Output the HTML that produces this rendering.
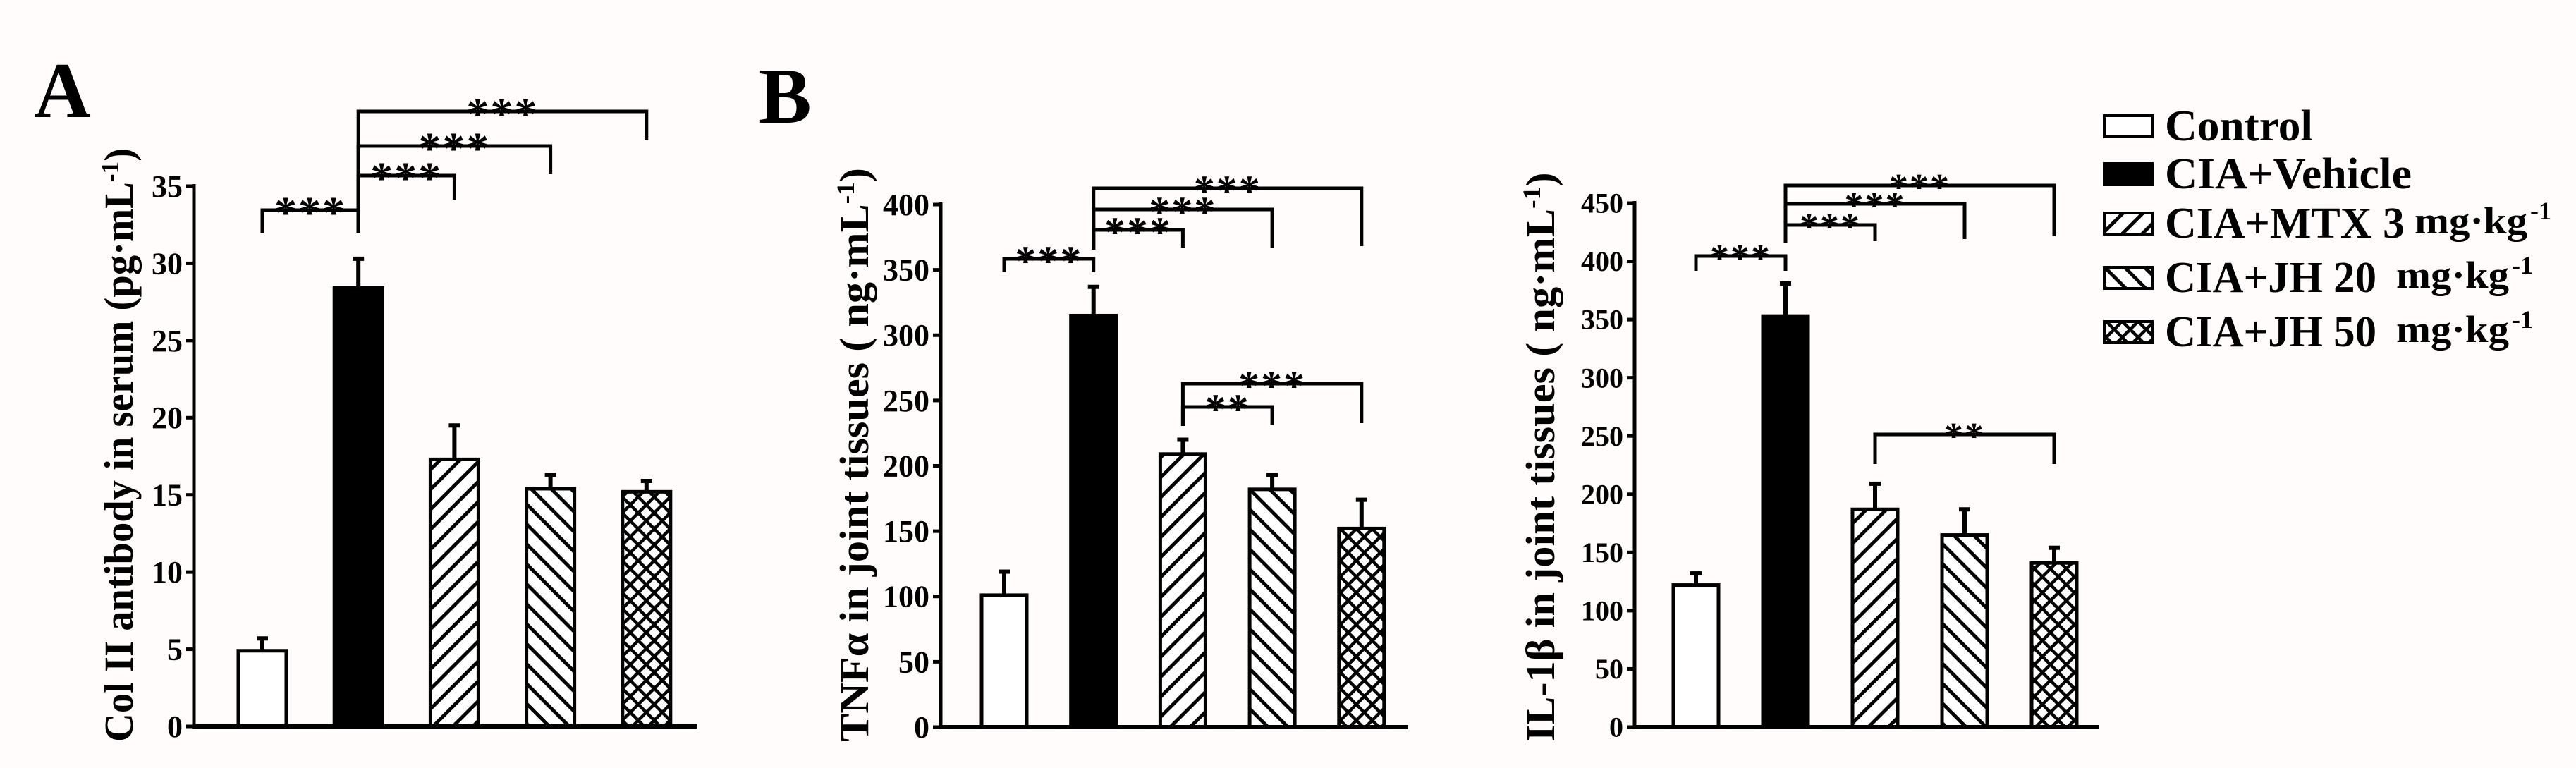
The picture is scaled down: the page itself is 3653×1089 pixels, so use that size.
<!DOCTYPE html>
<html><head><meta charset="utf-8"><style>
html,body{margin:0;padding:0;background:#fffcfb;}
svg, svg text{font-family:"Liberation Serif","Times New Roman",Times,serif;font-weight:bold;}
</style></head><body>
<svg id="fig" width="3653" height="1084" viewBox="0 0 3653 1084" xmlns="http://www.w3.org/2000/svg" font-family="Liberation Serif, Times New Roman, serif">
<defs>
<pattern id="hatchF" patternUnits="userSpaceOnUse" width="20" height="20" patternTransform="rotate(45)">
<rect width="20" height="20" fill="#fff"/><rect x="0" y="0" width="5" height="20" fill="#000"/></pattern>
<pattern id="hatchB" patternUnits="userSpaceOnUse" width="20" height="20" patternTransform="rotate(-45)">
<rect width="20" height="20" fill="#fff"/><rect x="0" y="0" width="5" height="20" fill="#000"/></pattern>
<pattern id="cross" patternUnits="userSpaceOnUse" width="16" height="16" patternTransform="rotate(45)">
<rect width="16" height="16" fill="#fff"/><rect x="0" y="0" width="4.5" height="16" fill="#000"/><rect x="0" y="0" width="16" height="4.5" fill="#000"/></pattern>
</defs>
<text x="48" y="166" font-size="112">A</text>
<text x="1076" y="174" font-size="112">B</text>
<g id="legend"></g>
</svg>
<script>
const categories = ["Control","CIA+Vehicle","CIA+MTX 3","CIA+JH 20","CIA+JH 50"];
const fills = ["#fff","#000","url(#hatchF)","url(#hatchB)","url(#cross)"];
const valuesA = [4.9, 28.4, 17.3, 15.4, 15.2];
const errorsA = [0.8, 1.9, 2.2, 0.9, 0.7];
const ticksA = [0,5,10,15,20,25,30,35];
const valuesB = [101, 315, 209, 182, 152];
const errorsB = [18, 22, 11, 11, 22];
const ticksB = [0,50,100,150,200,250,300,350,400];
const valuesC = [122, 353, 187, 165, 141];
const errorsC = [10, 28, 22, 22, 13];
const ticksC = [0,50,100,150,200,250,300,350,400,450];
const NS="http://www.w3.org/2000/svg";
const svg=document.getElementById('fig');
function el(tag,attrs,parent){const e=document.createElementNS(NS,tag);for(const k in attrs)e.setAttribute(k,attrs[k]);(parent||svg).appendChild(e);return e;}

const panels=[
 {key:'a',vals:valuesA,errs:errorsA,ticks:ticksA,max:35,x0:275,x1:988,y0:1030,yTop:264,centers0:372,step:136.2,bw:68,
  label:"Col II antibody in serum (pg·mL",lx:168,ly:631,llen:842,tickFs:44,starFs:64,
  br:[[0,1,298,330,330,"***"],[1,2,249,284,330,"***"],[1,3,207,247,330,"***"],[1,4,158,199,330,"***"]]},
 {key:'b',vals:valuesB,errs:errorsB,ticks:ticksB,max:400,x0:1334,x1:1997,y0:1031,yTop:290,centers0:1424,step:126.7,bw:64,
  label:"TNFα in joint tissues ( ng·mL",lx:1211,ly:645,llen:814,tickFs:44,starFs:60,
  br:[[0,1,367,386,386,"***"],[1,2,326,351,354,"***"],[1,3,297,352,354,"***"],[1,4,267,349,354,"***"],[2,3,577,603,604,"**"],[2,4,544,600,604,"***"]]},
 {key:'c',vals:valuesC,errs:errorsC,ticks:ticksC,max:450,x0:2318,x1:2976,y0:1031,yTop:288,centers0:2405,step:127,bw:64,
  label:"IL-1β in joint tissues ( ng·mL",lx:2184,ly:648,llen:807,tickFs:40,starFs:54,
  br:[[0,1,363,384,384,"***"],[1,2,319,342,344,"***"],[1,3,289,339,344,"***"],[1,4,263,335,344,"***"],[2,4,616,658,658,"**"]]}
];
panels.forEach(p=>{
 const g=el('g',{});
 
 
 const y=v=>p.y0-(v/p.max)*(p.y0-p.yTop);
 const cx=i=>p.centers0+i*p.step;
 p.vals.forEach((v,i)=>{
  const e=p.errs[i];
  const ln=el('line',{x1:cx(i),x2:cx(i),y1:y(v),y2:y(v+e),stroke:'#000','stroke-width':6},g);
  
  
  const cap=el('line',{x1:cx(i)-8,x2:cx(i)+8,y1:y(v+e),y2:y(v+e),stroke:'#000','stroke-width':6},g);
  
  
  const r=el('rect',{x:cx(i)-p.bw/2,y:y(v),width:p.bw,height:p.y0-y(v),fill:fills[i],stroke:'#000','stroke-width':5},g);
  
  
 });
 const ya=el('line',{x1:p.x0,x2:p.x0,y1:p.yTop-3,y2:p.y0+3,stroke:'#000','stroke-width':5},g);
 
 
 const xa=el('line',{x1:p.x0-2,x2:p.x1,y1:p.y0,y2:p.y0,stroke:'#000','stroke-width':6},g);
 
 
 p.ticks.forEach(t=>{
  el('line',{x1:p.x0-11,x2:p.x0,y1:y(t),y2:y(t),stroke:'#000','stroke-width':5},g);
  const tx=el('text',{x:p.x0-16,y:y(t)+p.tickFs*0.34,'text-anchor':'end','font-size':p.tickFs},g);
  tx.textContent=t;
  
  
 });
 const yt=el('text',{x:0,y:0,'font-size':58,'text-anchor':'middle',transform:`translate(${p.lx+20},${p.ly}) rotate(-90)`,textLength:p.llen,lengthAdjust:'spacingAndGlyphs'},g);
 
 
 yt.appendChild(document.createTextNode(p.label));
 const sup=document.createElementNS(NS,'tspan');sup.setAttribute('baseline-shift','super');sup.setAttribute('font-size','36');sup.textContent='-1';yt.appendChild(sup);
 yt.appendChild(document.createTextNode(')'));
 p.br.forEach(b=>{
  const xa_=cx(b[0]),xb=cx(b[1]);
  const pl=el('polyline',{points:`${xa_},${b[4]} ${xa_},${b[2]} ${xb},${b[2]} ${xb},${b[3]}`,fill:'none',stroke:'#000','stroke-width':5},g);
  
  
  const st=el('text',{x:(xa_+xb)/2,y:b[2]+p.starFs*0.38,'text-anchor':'middle','font-size':p.starFs,'font-weight':'normal','letter-spacing':2},g);
  st.textContent=b[5];
  
  
 });
});
const lg=document.getElementById('legend');
const legendRows=[["Control",""],["CIA+Vehicle",""],["CIA+MTX 3","mg·kg"],["CIA+JH 20","mg·kg"],["CIA+JH 50","mg·kg"]];
const legY=[179,247,317,394,471];
const unitX=[0,0,3424,3398,3398];
legendRows.forEach((r,i)=>{
 const b=el('rect',{x:2984,y:legY[i]-15,width:68,height:30,fill:fills[i],stroke:'#000','stroke-width':4},lg);
 
 
 const t=el('text',{x:3070,y:legY[i]+20,'font-size':62,textLength:r[1]?(i==2?340:300):(i==0?210:350),lengthAdjust:'spacingAndGlyphs'},lg);
 t.textContent=r[0];
 
 
 if(r[1]){
  const u=el('text',{x:unitX[i],y:legY[i]+14,'font-size':54,textLength:160,lengthAdjust:'spacingAndGlyphs'},lg);
  u.textContent=r[1];
  
  
  const s=el('text',{x:unitX[i]+164,y:legY[i]-6,'font-size':36},lg);
  s.textContent='-1';
  
  
 }
});
</script>
</body></html>
